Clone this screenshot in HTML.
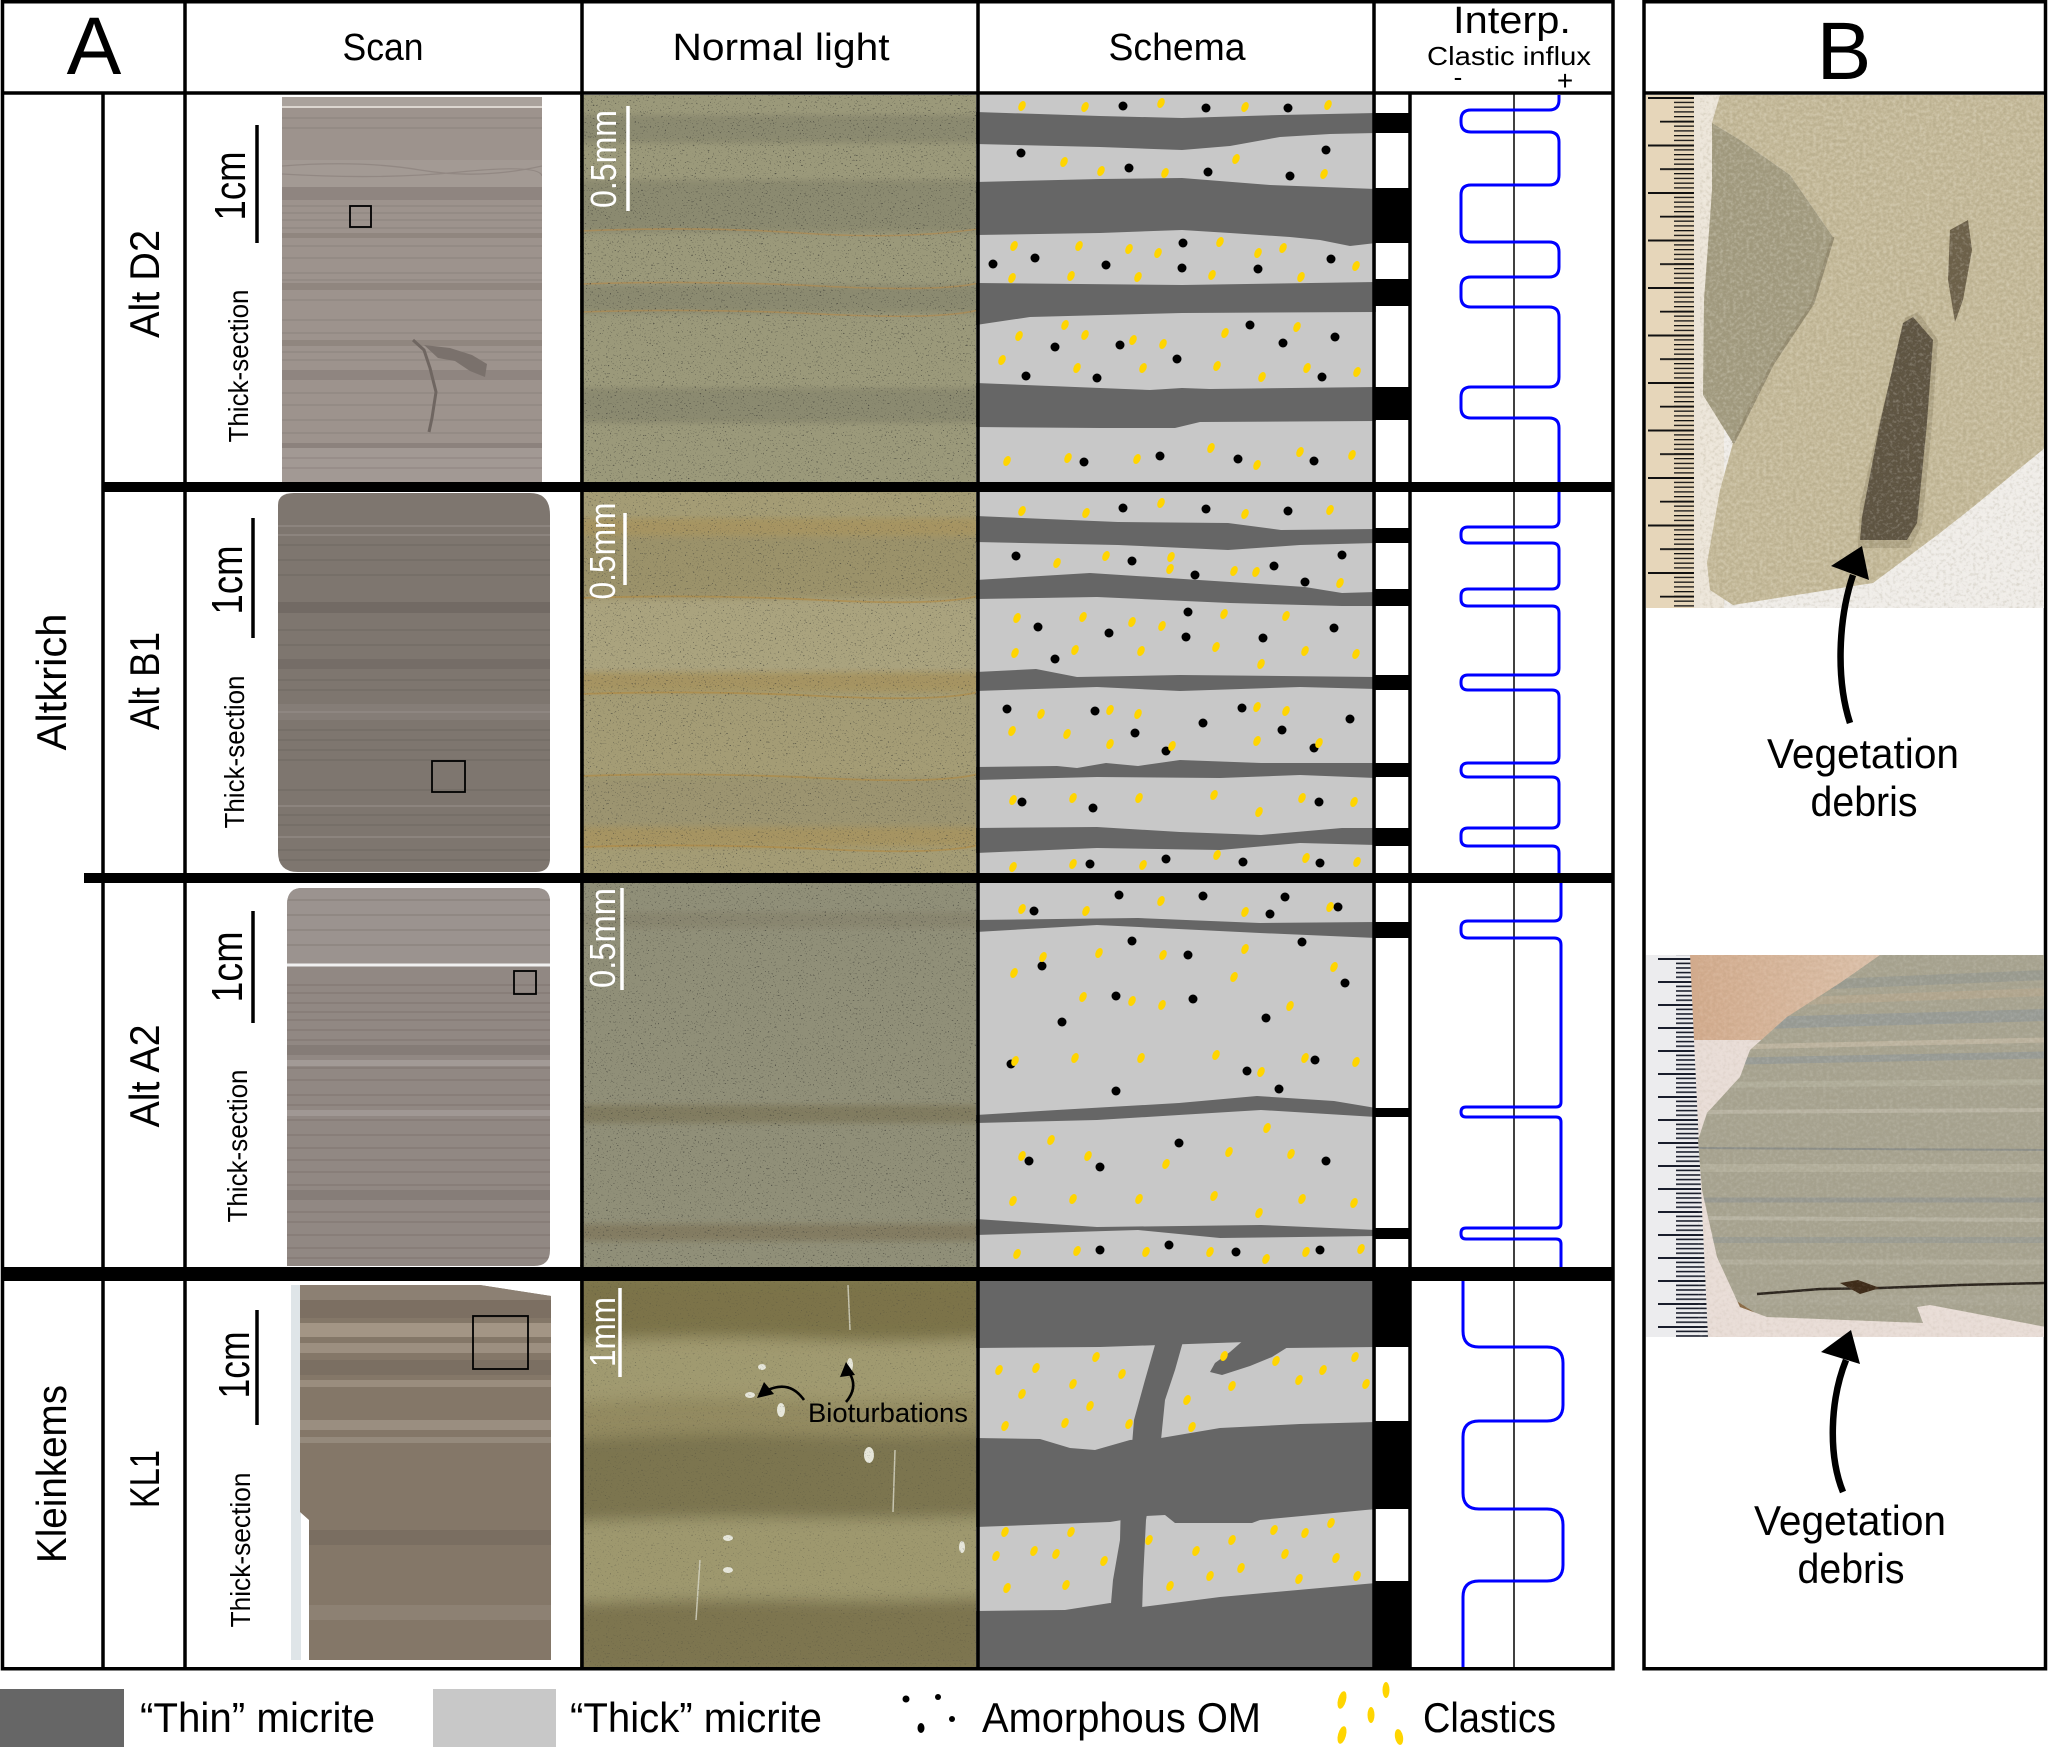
<!DOCTYPE html>
<html><head><meta charset="utf-8"><title>Figure</title>
<style>
html,body{margin:0;padding:0;background:#fff;width:2048px;height:1747px;overflow:hidden}
svg{display:block}
text{font-family:"Liberation Sans","DejaVu Sans",Arial,sans-serif;fill:#000}
</style></head><body>
<svg xmlns="http://www.w3.org/2000/svg" xmlns:xlink="http://www.w3.org/1999/xlink" width="2048" height="1747" viewBox="0 0 2048 1747">
<defs>
<filter id="spk" x="0" y="0" width="1" height="1">
<feTurbulence type="fractalNoise" baseFrequency="0.6" numOctaves="2" seed="7"/>
<feColorMatrix type="matrix" values="0 0 0 0 0.05  0 0 0 0 0.05  0 0 0 0 0.04  -9 0 0 0 3.1"/>
</filter>
<filter id="grain" x="0" y="0" width="1" height="1">
<feTurbulence type="fractalNoise" baseFrequency="0.3" numOctaves="3" seed="11" result="t"/>
<feColorMatrix in="t" type="matrix" values="0 0 0 0 0.25  0 0 0 0 0.22  0 0 0 0 0.12  -2.2 0 0 0 1.1" result="d"/>
<feColorMatrix in="t" type="matrix" values="0 0 0 0 1  0 0 0 0 0.98  0 0 0 0 0.9  2.4 0 0 0 -1.1" result="l"/>
<feMerge><feMergeNode in="d"/><feMergeNode in="l"/></feMerge>
</filter>
<filter id="bl3" x="-0.05" y="-0.2" width="1.1" height="1.4"><feGaussianBlur stdDeviation="3"/></filter>
<filter id="bl8" x="-0.1" y="-0.3" width="1.2" height="1.6"><feGaussianBlur stdDeviation="7"/></filter>
<circle id="bd" r="4.5" fill="#000"/>
<ellipse id="yd" rx="3.4" ry="5.2" fill="#ffd500" transform="rotate(25)"/>
<pattern id="tkA" patternUnits="userSpaceOnUse" x="1646" y="97" width="48" height="4.75"><rect x="28" y="0" width="20" height="1.3" fill="#111"/></pattern>
<pattern id="tkB" patternUnits="userSpaceOnUse" x="1646" y="97" width="48" height="23.75"><rect x="14" y="0" width="34" height="1.8" fill="#111"/></pattern>
<pattern id="tkC" patternUnits="userSpaceOnUse" x="1646" y="97" width="48" height="47.5"><rect x="2" y="0" width="46" height="2" fill="#111"/></pattern>
<pattern id="tkD" patternUnits="userSpaceOnUse" x="1646" y="958" width="62" height="4.6"><rect x="30" y="0" width="32" height="1.6" fill="#1a1e2c"/></pattern>
<pattern id="tkE" patternUnits="userSpaceOnUse" x="1646" y="958" width="62" height="23"><rect x="12" y="0" width="50" height="2" fill="#1a1e2c"/></pattern>
<linearGradient id="bg2" x1="0" y1="0" x2="1" y2="0"><stop offset="0" stop-color="#cfa585"/><stop offset="0.5" stop-color="#d9bca4"/><stop offset="1" stop-color="#e3d6ca"/></linearGradient>
<clipPath id="cNL1"><rect x="580" y="95" width="398" height="387"/></clipPath>
<clipPath id="cNL2"><rect x="580" y="492" width="398" height="381"/></clipPath>
<clipPath id="cNL3"><rect x="580" y="883" width="398" height="384"/></clipPath>
<clipPath id="cNL4"><rect x="580" y="1281" width="398" height="387"/></clipPath>
<clipPath id="cS1"><rect x="976" y="95" width="400" height="387"/></clipPath>
<clipPath id="cS2"><rect x="976" y="492" width="400" height="381"/></clipPath>
<clipPath id="cS3"><rect x="976" y="883" width="400" height="384"/></clipPath>
<clipPath id="cS4"><rect x="976" y="1281" width="400" height="387"/></clipPath>
<clipPath id="cSc1"><rect x="282" y="97" width="260" height="385"/></clipPath>
<clipPath id="cSc2"><path d="M294 493H530Q550 493 550 515V858Q550 872 536 872H298Q278 872 278 852V505Q278 493 294 493Z"/></clipPath>
<clipPath id="cSc3"><path d="M302 888H536Q550 888 550 902V1250Q550 1266 534 1266H287V905Q287 888 302 888Z"/></clipPath>
<clipPath id="cSc4"><path d="M300 1285L480 1285L551 1296L551 1660L309 1660L309 1520L300 1512Z"/></clipPath>
<clipPath id="cP1"><rect x="1646" y="95" width="398" height="513"/></clipPath>
<clipPath id="cP2"><rect x="1646" y="955" width="398" height="382"/></clipPath>
<clipPath id="cRock2"><path d="M1880 955L1840 983L1787 1017L1750 1050L1740 1077L1707 1113L1698 1140L1702 1190L1717 1257L1740 1307L1767 1317L1923 1323L1917 1307L1930 1305L2046 1327L2046 955Z"/></clipPath>
</defs>
<rect width="2048" height="1747" fill="#fff"/>

<!-- ================= SCANS ================= -->
<g clip-path="url(#cSc1)">
<rect x="282" y="97" width="260" height="385" fill="#9d938d"/>
<rect x="282" y="97" width="260" height="10" fill="#aaa29c"/>
<rect x="282" y="160" width="260" height="27" fill="#a39a94"/>
<rect x="282" y="187" width="260" height="13" fill="#8f8580"/>
<rect x="282" y="233" width="260" height="5" fill="#90867f"/>
<rect x="282" y="283" width="260" height="7" fill="#90867f"/>
<rect x="282" y="340" width="260" height="6" fill="#90867f"/>
<rect x="282" y="370" width="260" height="10" fill="#8f8580"/>
<rect x="282" y="443" width="260" height="5" fill="#8c827d"/>
<rect x="282" y="448" width="260" height="34" fill="#a29994"/>
<path d="M282 118H542M282 128H542M282 166Q360 160 420 170T542 166M282 174Q380 180 460 172T542 176M282 206H542M282 213H542M282 220H542M282 228H542M282 246H542M282 258H542M282 273H542M282 280H542M282 300H542M282 320H542M282 333H542M282 352H542M282 360H542M282 393H542M282 405H542M282 420H542M282 433H542M282 458H542M282 468H542" stroke="#877d78" stroke-width="1.3" fill="none" opacity=".6"/>
<line x1="282" y1="107" x2="542" y2="107" stroke="#dcd6d0" stroke-width="2"/>
<path d="M413 340L424 350L430 368L436 392L432 418L429 432" stroke="#6f6661" stroke-width="3" fill="none"/>
<path d="M424 345L450 348L472 355L487 364L485 377L470 371L455 361L438 358Z" fill="#7a716c"/>
<rect x="350" y="206" width="21" height="21" fill="none" stroke="#000" stroke-width="1.8"/>
</g>
<g clip-path="url(#cSc2)">
<rect x="276" y="490" width="276" height="384" fill="#7e766f"/>
<rect x="276" y="602" width="276" height="11" fill="#726a64"/>
<rect x="276" y="659" width="276" height="10" fill="#756d67"/>
<rect x="276" y="704" width="276" height="16" fill="#857d77"/>
<path d="M276 545H552M276 560H552M276 575H552M276 630H552M276 645H552M276 680H552M276 690H552M276 730H552M276 740H552M276 750H552M276 760H552M276 790H552M276 815H552M276 825H552M276 850H552M276 860H552" stroke="#6e6660" stroke-width="1.3" fill="none" opacity=".7"/>
<path d="M276 526H552M276 535H552M276 712H552M276 806H552M276 837H552" stroke="#958d87" stroke-width="1.3" fill="none"/>
<rect x="432" y="761" width="33" height="31" fill="none" stroke="#000" stroke-width="1.8"/>
</g>
<g clip-path="url(#cSc3)">
<rect x="285" y="886" width="267" height="382" fill="#918883"/>
<rect x="285" y="886" width="267" height="79" fill="#9b938f"/>
<path d="M285 900H552M285 915H552M285 930H552M285 945H552" stroke="#8a817c" stroke-width="1.3" fill="none"/>
<rect x="285" y="1045" width="267" height="10" fill="#857c77"/>
<rect x="285" y="1190" width="267" height="10" fill="#867d78"/>
<rect x="285" y="1060" width="267" height="6" fill="#a29a96"/>
<rect x="285" y="1110" width="267" height="6" fill="#a09894"/>
<path d="M285 985H552M285 993H552M285 1003H552M285 1012H552M285 1020H552M285 1030H552M285 1040H552M285 1068H552M285 1080H552M285 1095H552M285 1105H552M285 1120H552M285 1135H552M285 1148H552M285 1160H552M285 1172H552M285 1185H552M285 1212H552M285 1222H552M285 1235H552M285 1248H552M285 1258H552" stroke="#7f7671" stroke-width="1.3" fill="none" opacity=".8"/>
<line x1="285" y1="965" x2="552" y2="965" stroke="#f0f0f0" stroke-width="3"/>
<rect x="514" y="971" width="22" height="23" fill="none" stroke="#000" stroke-width="1.8"/>
</g>
<rect x="291" y="1285" width="10" height="375" fill="#dfe5e8"/>
<g clip-path="url(#cSc4)">
<rect x="298" y="1283" width="255" height="380" fill="#847768"/>
<rect x="298" y="1285" width="255" height="15" fill="#8c8073"/>
<rect x="298" y="1300" width="255" height="18" fill="#7c6f62"/>
<rect x="298" y="1323" width="255" height="14" fill="#a39585"/>
<rect x="298" y="1343" width="255" height="10" fill="#9c8f80"/>
<rect x="298" y="1360" width="255" height="15" fill="#7b6f62"/>
<rect x="298" y="1380" width="255" height="7" fill="#9a8d7e"/>
<rect x="298" y="1420" width="255" height="10" fill="#9a8e80"/>
<rect x="298" y="1437" width="255" height="6" fill="#958a7c"/>
<rect x="298" y="1530" width="255" height="15" fill="#7a6e61"/>
<rect x="298" y="1605" width="255" height="15" fill="#8d8173"/>
<rect x="473" y="1316" width="55" height="53" fill="none" stroke="#000" stroke-width="1.8"/>
</g>

<!-- ================= NORMAL LIGHT ================= -->
<g clip-path="url(#cNL1)">
<rect x="580" y="95" width="398" height="387" fill="#9b997a"/>
<g filter="url(#bl3)" fill="#8b8a6f">
<rect x="570" y="115" width="420" height="28"/>
<rect x="570" y="180" width="420" height="52"/>
<rect x="570" y="285" width="420" height="28"/>
<rect x="570" y="388" width="420" height="35"/>
</g>
<path d="M580 231Q700 226 800 233T978 229M580 284Q700 280 820 286T978 283M580 312Q700 308 820 314T978 310" stroke="#b08a50" stroke-width="1.6" fill="none" opacity=".7"/>
<rect x="580" y="95" width="398" height="387" fill="#000" filter="url(#spk)" opacity=".75"/>
</g>
<g clip-path="url(#cNL2)">
<rect x="580" y="492" width="398" height="381" fill="#a49c75"/>
<g filter="url(#bl3)">
<rect x="570" y="518" width="420" height="18" fill="#a69462"/>
<rect x="570" y="536" width="420" height="62" fill="#9b926b"/>
<rect x="570" y="600" width="420" height="72" fill="#aaa37e"/>
<rect x="570" y="672" width="420" height="20" fill="#a69462"/>
<rect x="570" y="776" width="420" height="51" fill="#9c9470"/>
<rect x="570" y="827" width="420" height="20" fill="#a69462"/>
</g>
<path d="M580 598Q700 594 820 600T978 596M580 776Q700 772 820 778T978 774M580 694Q700 690 820 696T978 692M580 847Q700 843 820 849T978 845" stroke="#b3893f" stroke-width="1.8" fill="none" opacity=".6"/>
<rect x="580" y="492" width="398" height="381" fill="#000" filter="url(#spk)" opacity=".65"/>
</g>
<g clip-path="url(#cNL3)">
<rect x="580" y="883" width="398" height="384" fill="#908f78"/>
<g filter="url(#bl3)">
<rect x="570" y="912" width="420" height="16" fill="#898670"/>
<rect x="570" y="1105" width="420" height="18" fill="#817b61"/>
<rect x="570" y="1224" width="420" height="17" fill="#837c62"/>
</g>
<rect x="580" y="883" width="398" height="384" fill="#000" filter="url(#spk)" opacity=".7"/>
</g>
<g clip-path="url(#cNL4)">
<rect x="580" y="1281" width="398" height="387" fill="#8b8359"/>
<g filter="url(#bl8)">
<path fill="#7c7349" d="M570 1275H990V1336Q900 1344 800 1338T570 1342Z"/>
<path fill="#a09a70" d="M570 1342Q700 1336 800 1340T990 1338V1398Q880 1404 780 1400T570 1404Z"/>
<path fill="#938a61" d="M570 1404Q700 1398 800 1402T990 1398V1432Q880 1438 780 1434T570 1440Z"/>
<path fill="#7b7450" d="M570 1440Q700 1432 800 1436T990 1432V1516Q880 1520 780 1518T570 1522Z"/>
<path fill="#9e986e" d="M570 1522Q700 1516 800 1518T990 1516V1598Q880 1602 780 1600T570 1604Z"/>
<path fill="#7d7550" d="M570 1604Q700 1598 800 1600T990 1598V1675H570Z"/>
</g>
<path d="M848 1285L850 1330M895 1450L893 1512M700 1560L696 1620" stroke="#d8d8c8" stroke-width="1.5" fill="none" opacity=".8"/>
<g fill="#e6e6da">
<ellipse cx="781" cy="1410" rx="4" ry="7"/><ellipse cx="869" cy="1455" rx="5" ry="8"/><ellipse cx="728" cy="1538" rx="5" ry="3"/><ellipse cx="728" cy="1570" rx="5" ry="3"/><ellipse cx="962" cy="1547" rx="3" ry="6"/><ellipse cx="762" cy="1367" rx="4" ry="3"/><ellipse cx="750" cy="1395" rx="5" ry="3"/><ellipse cx="850" cy="1365" rx="3" ry="7"/>
</g>
<rect x="580" y="1281" width="398" height="387" fill="#000" filter="url(#spk)" opacity=".35"/>
</g>

<!-- ================= SCHEMA ================= -->
<g clip-path="url(#cS1)">
<rect x="976" y="93" width="400" height="391" fill="#c8c8c8"/>
<path fill="#666" d="M976 112L1100 116L1182 118L1280 115L1376 113L1376 133L1330 134L1280 137L1230 146L1182 150L1100 147L976 144Z
M976 182L1100 179L1182 178L1270 185L1376 189L1376 243L1350 246L1320 240L1290 237L1230 233L1182 230L1100 233L976 235Z
M976 283L1182 285L1376 282L1376 312L1182 313L1030 317L976 325Z
M976 383L1100 388L1150 390L1182 388L1210 389L1376 387L1376 421L1200 422L1175 428L1100 428L976 427Z"/>
<g>
<use href="#bd" x="1123" y="106"/><use href="#bd" x="1206" y="108"/><use href="#bd" x="1288" y="108"/><use href="#bd" x="1021" y="153"/><use href="#bd" x="1129" y="168"/><use href="#bd" x="1208" y="172"/><use href="#bd" x="1290" y="176"/><use href="#bd" x="1326" y="150"/><use href="#bd" x="993" y="264"/><use href="#bd" x="1035" y="258"/><use href="#bd" x="1106" y="265"/><use href="#bd" x="1182" y="268"/><use href="#bd" x="1183" y="243"/><use href="#bd" x="1258" y="269"/><use href="#bd" x="1331" y="259"/><use href="#bd" x="1055" y="347"/><use href="#bd" x="1120" y="345"/><use href="#bd" x="1177" y="359"/><use href="#bd" x="1250" y="325"/><use href="#bd" x="1283" y="343"/><use href="#bd" x="1335" y="337"/><use href="#bd" x="1026" y="376"/><use href="#bd" x="1097" y="378"/><use href="#bd" x="1322" y="377"/><use href="#bd" x="1084" y="462"/><use href="#bd" x="1160" y="456"/><use href="#bd" x="1238" y="459"/><use href="#bd" x="1314" y="461"/>
<use href="#yd" x="1022" y="106"/><use href="#yd" x="1085" y="107"/><use href="#yd" x="1161" y="103"/><use href="#yd" x="1245" y="107"/><use href="#yd" x="1328" y="105"/><use href="#yd" x="1064" y="162"/><use href="#yd" x="1101" y="171"/><use href="#yd" x="1165" y="173"/><use href="#yd" x="1236" y="159"/><use href="#yd" x="1324" y="174"/><use href="#yd" x="1014" y="246"/><use href="#yd" x="1079" y="246"/><use href="#yd" x="1129" y="249"/><use href="#yd" x="1158" y="253"/><use href="#yd" x="1220" y="242"/><use href="#yd" x="1258" y="253"/><use href="#yd" x="1283" y="248"/><use href="#yd" x="1356" y="266"/><use href="#yd" x="1012" y="278"/><use href="#yd" x="1071" y="276"/><use href="#yd" x="1138" y="277"/><use href="#yd" x="1212" y="275"/><use href="#yd" x="1301" y="277"/><use href="#yd" x="1019" y="336"/><use href="#yd" x="1065" y="325"/><use href="#yd" x="1085" y="335"/><use href="#yd" x="1133" y="340"/><use href="#yd" x="1163" y="344"/><use href="#yd" x="1225" y="333"/><use href="#yd" x="1297" y="327"/><use href="#yd" x="1002" y="360"/><use href="#yd" x="1077" y="368"/><use href="#yd" x="1143" y="368"/><use href="#yd" x="1217" y="366"/><use href="#yd" x="1262" y="377"/><use href="#yd" x="1307" y="368"/><use href="#yd" x="1357" y="372"/><use href="#yd" x="1007" y="461"/><use href="#yd" x="1068" y="458"/><use href="#yd" x="1137" y="459"/><use href="#yd" x="1211" y="448"/><use href="#yd" x="1257" y="465"/><use href="#yd" x="1300" y="452"/><use href="#yd" x="1352" y="455"/>
</g>
</g>
<g clip-path="url(#cS2)">
<rect x="976" y="490" width="400" height="385" fill="#c8c8c8"/>
<path fill="#666" d="M976 516L1118 522L1228 523L1281 530L1376 529L1376 543L1300 545L1228 550L1118 545L976 542Z
M976 580L1090 573L1230 582L1305 587L1342 593L1376 592L1376 606L1342 606L1230 603L1097 597L976 599Z
M976 672L1036 669L1077 677L1180 675L1376 677L1376 689L1300 687L1180 691L1097 687L976 691Z
M976 767L1057 766L1077 768L1106 763L1138 766L1180 760L1261 763L1376 763L1376 778L1300 775L1220 778L1097 777L976 780Z
M976 828L1097 827L1180 832L1261 835L1342 828L1376 828L1376 845L1300 843L1220 850L1097 848L976 853Z"/>
<g>
<use href="#bd" x="1123" y="508"/><use href="#bd" x="1206" y="509"/><use href="#bd" x="1288" y="511"/><use href="#bd" x="1016" y="556"/><use href="#bd" x="1132" y="561"/><use href="#bd" x="1195" y="575"/><use href="#bd" x="1274" y="566"/><use href="#bd" x="1305" y="582"/><use href="#bd" x="1342" y="555"/><use href="#bd" x="1038" y="627"/><use href="#bd" x="1109" y="633"/><use href="#bd" x="1188" y="612"/><use href="#bd" x="1186" y="637"/><use href="#bd" x="1263" y="638"/><use href="#bd" x="1334" y="628"/><use href="#bd" x="1055" y="659"/><use href="#bd" x="1007" y="709"/><use href="#bd" x="1095" y="711"/><use href="#bd" x="1203" y="723"/><use href="#bd" x="1242" y="708"/><use href="#bd" x="1350" y="719"/><use href="#bd" x="1135" y="733"/><use href="#bd" x="1282" y="730"/><use href="#bd" x="1166" y="751"/><use href="#bd" x="1314" y="748"/><use href="#bd" x="1022" y="802"/><use href="#bd" x="1093" y="808"/><use href="#bd" x="1319" y="802"/><use href="#bd" x="1090" y="864"/><use href="#bd" x="1166" y="859"/><use href="#bd" x="1243" y="862"/><use href="#bd" x="1320" y="863"/>
<use href="#yd" x="1022" y="511"/><use href="#yd" x="1086" y="513"/><use href="#yd" x="1161" y="503"/><use href="#yd" x="1245" y="514"/><use href="#yd" x="1330" y="510"/><use href="#yd" x="1057" y="563"/><use href="#yd" x="1106" y="556"/><use href="#yd" x="1171" y="557"/><use href="#yd" x="1170" y="569"/><use href="#yd" x="1234" y="571"/><use href="#yd" x="1256" y="572"/><use href="#yd" x="1340" y="583"/><use href="#yd" x="1017" y="618"/><use href="#yd" x="1083" y="617"/><use href="#yd" x="1132" y="622"/><use href="#yd" x="1162" y="626"/><use href="#yd" x="1224" y="614"/><use href="#yd" x="1286" y="616"/><use href="#yd" x="1015" y="653"/><use href="#yd" x="1075" y="650"/><use href="#yd" x="1141" y="651"/><use href="#yd" x="1216" y="647"/><use href="#yd" x="1305" y="651"/><use href="#yd" x="1356" y="654"/><use href="#yd" x="1261" y="664"/><use href="#yd" x="1041" y="714"/><use href="#yd" x="1110" y="710"/><use href="#yd" x="1138" y="714"/><use href="#yd" x="1257" y="707"/><use href="#yd" x="1286" y="711"/><use href="#yd" x="1012" y="731"/><use href="#yd" x="1067" y="734"/><use href="#yd" x="1110" y="744"/><use href="#yd" x="1172" y="746"/><use href="#yd" x="1257" y="741"/><use href="#yd" x="1319" y="743"/><use href="#yd" x="1013" y="800"/><use href="#yd" x="1073" y="798"/><use href="#yd" x="1139" y="798"/><use href="#yd" x="1214" y="795"/><use href="#yd" x="1302" y="798"/><use href="#yd" x="1354" y="802"/><use href="#yd" x="1259" y="812"/><use href="#yd" x="1013" y="867"/><use href="#yd" x="1073" y="864"/><use href="#yd" x="1143" y="865"/><use href="#yd" x="1217" y="855"/><use href="#yd" x="1306" y="858"/><use href="#yd" x="1357" y="862"/>
</g>
</g>
<g clip-path="url(#cS3)">
<rect x="976" y="881" width="400" height="388" fill="#c8c8c8"/>
<path fill="#666" d="M976 920L1138 918L1260 923L1376 922L1376 938L1260 933L1097 925L976 932Z
M976 1115L1057 1110L1179 1103L1257 1096L1334 1101L1376 1108L1376 1117L1261 1110L1179 1115L1097 1120L976 1123Z
M976 1219L1097 1227L1261 1225L1376 1230L1376 1236L1220 1238L1138 1230L976 1235Z"/>
<g>
<use href="#bd" x="1119" y="895"/><use href="#bd" x="1203" y="896"/><use href="#bd" x="1285" y="897"/><use href="#bd" x="1034" y="911"/><use href="#bd" x="1338" y="907"/><use href="#bd" x="1270" y="914"/><use href="#bd" x="1132" y="941"/><use href="#bd" x="1302" y="942"/><use href="#bd" x="1042" y="966"/><use href="#bd" x="1188" y="955"/><use href="#bd" x="1345" y="983"/><use href="#bd" x="1116" y="996"/><use href="#bd" x="1193" y="999"/><use href="#bd" x="1062" y="1022"/><use href="#bd" x="1266" y="1018"/><use href="#bd" x="1011" y="1064"/><use href="#bd" x="1315" y="1060"/><use href="#bd" x="1247" y="1071"/><use href="#bd" x="1116" y="1091"/><use href="#bd" x="1279" y="1089"/><use href="#bd" x="1179" y="1143"/><use href="#bd" x="1029" y="1161"/><use href="#bd" x="1100" y="1167"/><use href="#bd" x="1326" y="1161"/><use href="#bd" x="1169" y="1245"/><use href="#bd" x="1100" y="1250"/><use href="#bd" x="1236" y="1252"/><use href="#bd" x="1320" y="1250"/>
<use href="#yd" x="1022" y="909"/><use href="#yd" x="1086" y="911"/><use href="#yd" x="1161" y="901"/><use href="#yd" x="1245" y="912"/><use href="#yd" x="1330" y="907"/><use href="#yd" x="1043" y="957"/><use href="#yd" x="1099" y="953"/><use href="#yd" x="1163" y="955"/><use href="#yd" x="1245" y="949"/><use href="#yd" x="1014" y="973"/><use href="#yd" x="1234" y="977"/><use href="#yd" x="1334" y="967"/><use href="#yd" x="1083" y="997"/><use href="#yd" x="1132" y="1001"/><use href="#yd" x="1162" y="1005"/><use href="#yd" x="1290" y="1006"/><use href="#yd" x="1015" y="1061"/><use href="#yd" x="1075" y="1058"/><use href="#yd" x="1141" y="1058"/><use href="#yd" x="1216" y="1055"/><use href="#yd" x="1305" y="1058"/><use href="#yd" x="1356" y="1062"/><use href="#yd" x="1261" y="1072"/><use href="#yd" x="1267" y="1128"/><use href="#yd" x="1051" y="1140"/><use href="#yd" x="1022" y="1156"/><use href="#yd" x="1088" y="1156"/><use href="#yd" x="1166" y="1164"/><use href="#yd" x="1229" y="1152"/><use href="#yd" x="1291" y="1154"/><use href="#yd" x="1013" y="1201"/><use href="#yd" x="1073" y="1199"/><use href="#yd" x="1139" y="1199"/><use href="#yd" x="1214" y="1196"/><use href="#yd" x="1302" y="1199"/><use href="#yd" x="1354" y="1203"/><use href="#yd" x="1259" y="1213"/><use href="#yd" x="1017" y="1254"/><use href="#yd" x="1077" y="1251"/><use href="#yd" x="1146" y="1252"/><use href="#yd" x="1210" y="1252"/><use href="#yd" x="1266" y="1259"/><use href="#yd" x="1306" y="1252"/><use href="#yd" x="1361" y="1249"/>
</g>
</g>
<g clip-path="url(#cS4)">
<rect x="976" y="1279" width="400" height="390" fill="#666"/>
<path fill="#c8c8c8" d="M976 1348L1100 1347L1160 1345L1246 1342L1285 1348L1376 1347L1376 1422L1300 1424L1220 1428L1161 1438L1130 1440L1095 1450L1070 1448L1040 1439L976 1438Z
M976 1527L1110 1522L1146 1516L1165 1515L1175 1523L1252 1523L1260 1520L1376 1509L1376 1583L1220 1597L1142 1607L1110 1603L1065 1610L976 1611Z"/>
<path fill="#666" d="M1157 1338L1145 1380L1134 1420L1132 1445L1121 1500L1120 1540L1113 1580L1110 1615L1142 1615L1143 1580L1146 1520L1150 1495L1161 1440L1165 1400L1175 1370L1184 1338Z
M1246 1338L1230 1352L1215 1363L1210 1372L1222 1375L1250 1366L1272 1357L1288 1347L1288 1338Z"/>
<g>
<use href="#yd" x="999" y="1370"/><use href="#yd" x="1036" y="1368"/><use href="#yd" x="1096" y="1357"/><use href="#yd" x="1122" y="1374"/><use href="#yd" x="1073" y="1384"/><use href="#yd" x="1022" y="1394"/><use href="#yd" x="1090" y="1406"/><use href="#yd" x="1005" y="1426"/><use href="#yd" x="1065" y="1423"/><use href="#yd" x="1129" y="1424"/><use href="#yd" x="1224" y="1356"/><use href="#yd" x="1276" y="1361"/><use href="#yd" x="1355" y="1357"/><use href="#yd" x="1323" y="1370"/><use href="#yd" x="1232" y="1386"/><use href="#yd" x="1299" y="1380"/><use href="#yd" x="1366" y="1384"/><use href="#yd" x="1187" y="1400"/><use href="#yd" x="1192" y="1427"/>
<use href="#yd" x="1005" y="1532"/><use href="#yd" x="1071" y="1532"/><use href="#yd" x="1149" y="1540"/><use href="#yd" x="1232" y="1540"/><use href="#yd" x="1274" y="1530"/><use href="#yd" x="1305" y="1533"/><use href="#yd" x="1331" y="1523"/><use href="#yd" x="996" y="1556"/><use href="#yd" x="1034" y="1551"/><use href="#yd" x="1056" y="1554"/><use href="#yd" x="1104" y="1561"/><use href="#yd" x="1196" y="1551"/><use href="#yd" x="1285" y="1554"/><use href="#yd" x="1336" y="1558"/><use href="#yd" x="1241" y="1568"/><use href="#yd" x="1210" y="1576"/><use href="#yd" x="1299" y="1579"/><use href="#yd" x="1357" y="1576"/><use href="#yd" x="1007" y="1588"/><use href="#yd" x="1066" y="1585"/><use href="#yd" x="1170" y="1586"/>
</g>
</g>

<!-- ================= BARS ================= -->
<g fill="#000">
<rect x="1374" y="113" width="36" height="20"/><rect x="1374" y="188" width="36" height="55"/><rect x="1374" y="279" width="36" height="27"/><rect x="1374" y="387" width="36" height="33"/>
<rect x="1374" y="528" width="36" height="15"/><rect x="1374" y="589" width="36" height="17"/><rect x="1374" y="675" width="36" height="15"/><rect x="1374" y="763" width="36" height="14"/><rect x="1374" y="828" width="36" height="18"/>
<rect x="1374" y="922" width="36" height="16"/><rect x="1374" y="1108" width="36" height="9"/><rect x="1374" y="1228" width="36" height="11"/>
<rect x="1374" y="1281" width="36" height="66"/><rect x="1374" y="1421" width="36" height="88"/><rect x="1374" y="1581" width="36" height="88"/>
</g>

<!-- ================= INTERP ================= -->
<line x1="1514" y1="93" x2="1514" y2="1669" stroke="#000" stroke-width="1.5"/>
<g fill="none" stroke="#0000ff" stroke-width="3">
<path d="M1559 95V100Q1559 110 1549 110H1471Q1461 110 1461 120V122Q1461 132 1471 132H1549Q1559 132 1559 142V175Q1559 185 1549 185H1471Q1461 185 1461 195V232Q1461 242 1471 242H1549Q1559 242 1559 252V267Q1559 277 1549 277H1471Q1461 277 1461 287V297Q1461 307 1471 307H1549Q1559 307 1559 317V377Q1559 387 1549 387H1471Q1461 387 1461 397V408Q1461 418 1471 418H1549Q1559 418 1559 428V484"/>
<path d="M1559 490V520Q1559 527 1552 527H1468Q1461 527 1461 534V536Q1461 543 1468 543H1552Q1559 543 1559 550V582Q1559 589 1552 589H1468Q1461 589 1461 596V599Q1461 606 1468 606H1552Q1559 606 1559 613V668Q1559 675 1552 675H1468Q1461 675 1461 682V683Q1461 690 1468 690H1552Q1559 690 1559 697V756Q1559 763 1552 763H1468Q1461 763 1461 770Q1461 777 1468 777H1552Q1559 777 1559 784V821Q1559 828 1552 828H1468Q1461 828 1461 835V839Q1461 846 1468 846H1552Q1559 846 1559 853V875"/>
<path d="M1561 881V914Q1561 921 1554 921H1468Q1461 921 1461 928V931Q1461 938 1468 938H1554Q1561 938 1561 945V1102Q1561 1107 1556 1107H1466Q1461 1107 1461 1112Q1461 1117 1466 1117H1556Q1561 1117 1561 1122V1223Q1561 1228 1556 1228H1466Q1461 1228 1461 1233V1234Q1461 1239 1466 1239H1556Q1561 1239 1561 1244V1269"/>
<path d="M1463 1279V1331Q1463 1347 1479 1347H1547Q1563 1347 1563 1363V1405Q1563 1421 1547 1421H1479Q1463 1421 1463 1437V1493Q1463 1509 1479 1509H1547Q1563 1509 1563 1525V1565Q1563 1581 1547 1581H1479Q1463 1581 1463 1597V1669"/>
</g>

<!-- ================= GRID LINES ================= -->
<g stroke="#000" stroke-width="3.5" fill="none">
<rect x="2.5" y="1.75" width="1610.5" height="1667"/>
<line x1="2" y1="93" x2="1613" y2="93"/>
<line x1="185" y1="0" x2="185" y2="1669"/>
<line x1="582" y1="0" x2="582" y2="1669"/>
<line x1="978" y1="0" x2="978" y2="1669"/>
<line x1="1374" y1="0" x2="1374" y2="1669"/>
<line x1="1410" y1="93" x2="1410" y2="1669"/>
<line x1="103" y1="93" x2="103" y2="1669"/>
<rect x="1644" y="1.75" width="401.5" height="1667"/>
<line x1="1644" y1="93" x2="2046" y2="93"/>
</g>
<rect x="103" y="482" width="1510" height="10" fill="#000"/>
<rect x="84" y="873" width="1529" height="10" fill="#000"/>
<rect x="2" y="1267" width="1611" height="14" fill="#000"/>

<!-- ================= HEADER TEXT ================= -->
<text x="94" y="74" font-size="82" text-anchor="middle">A</text>
<text x="383" y="60" font-size="38" text-anchor="middle" textLength="81" lengthAdjust="spacingAndGlyphs">Scan</text>
<text x="781" y="60" font-size="38" text-anchor="middle" textLength="217" lengthAdjust="spacingAndGlyphs">Normal light</text>
<text x="1177" y="60" font-size="38" text-anchor="middle" textLength="137" lengthAdjust="spacingAndGlyphs">Schema</text>
<text x="1512" y="33" font-size="38" text-anchor="middle" textLength="118" lengthAdjust="spacingAndGlyphs">Interp.</text>
<text x="1509" y="65" font-size="26" text-anchor="middle" textLength="164" lengthAdjust="spacingAndGlyphs">Clastic influx</text>
<text x="1458" y="86" font-size="26" text-anchor="middle">-</text>
<text x="1565" y="90" font-size="28" text-anchor="middle">+</text>
<text x="1844" y="79" font-size="82" text-anchor="middle">B</text>

<!-- ================= ROW LABELS ================= -->
<text x="66" y="682" transform="rotate(-90 66 682)" font-size="42" text-anchor="middle" textLength="137" lengthAdjust="spacingAndGlyphs">Altkrich</text>
<text x="66" y="1474" transform="rotate(-90 66 1474)" font-size="42" text-anchor="middle" textLength="178" lengthAdjust="spacingAndGlyphs">Kleinkems</text>
<text x="159" y="284" transform="rotate(-90 159 284)" font-size="42" text-anchor="middle" textLength="108" lengthAdjust="spacingAndGlyphs">Alt D2</text>
<text x="159" y="681" transform="rotate(-90 159 681)" font-size="42" text-anchor="middle" textLength="98" lengthAdjust="spacingAndGlyphs">Alt B1</text>
<text x="159" y="1076" transform="rotate(-90 159 1076)" font-size="42" text-anchor="middle" textLength="103" lengthAdjust="spacingAndGlyphs">Alt A2</text>
<text x="159" y="1479" transform="rotate(-90 159 1479)" font-size="42" text-anchor="middle" textLength="58" lengthAdjust="spacingAndGlyphs">KL1</text>

<text x="245" y="186" transform="rotate(-90 245 186)" font-size="44" text-anchor="middle" textLength="69" lengthAdjust="spacingAndGlyphs">1cm</text>
<text x="242" y="580" transform="rotate(-90 242 580)" font-size="44" text-anchor="middle" textLength="69" lengthAdjust="spacingAndGlyphs">1cm</text>
<text x="242" y="967" transform="rotate(-90 242 967)" font-size="44" text-anchor="middle" textLength="71" lengthAdjust="spacingAndGlyphs">1cm</text>
<text x="249" y="1365" transform="rotate(-90 249 1365)" font-size="44" text-anchor="middle" textLength="67" lengthAdjust="spacingAndGlyphs">1cm</text>
<g stroke="#000" stroke-width="3.5">
<line x1="257" y1="125" x2="257" y2="243"/>
<line x1="253" y1="518" x2="253" y2="638"/>
<line x1="253" y1="911" x2="253" y2="1023"/>
<line x1="257" y1="1310" x2="257" y2="1425"/>
</g>
<text x="248" y="366" transform="rotate(-90 248 366)" font-size="28" text-anchor="middle" textLength="153" lengthAdjust="spacingAndGlyphs">Thick-section</text>
<text x="244" y="752" transform="rotate(-90 244 752)" font-size="28" text-anchor="middle" textLength="153" lengthAdjust="spacingAndGlyphs">Thick-section</text>
<text x="247" y="1146" transform="rotate(-90 247 1146)" font-size="28" text-anchor="middle" textLength="153" lengthAdjust="spacingAndGlyphs">Thick-section</text>
<text x="250" y="1550" transform="rotate(-90 250 1550)" font-size="28" text-anchor="middle" textLength="155" lengthAdjust="spacingAndGlyphs">Thick-section</text>

<!-- scale bars in normal light -->
<g>
<text x="616" y="159" transform="rotate(-90 616 159)" font-size="36" text-anchor="middle" textLength="98" lengthAdjust="spacingAndGlyphs" style="fill:#fff">0.5mm</text>
<text x="615" y="551" transform="rotate(-90 615 551)" font-size="36" text-anchor="middle" textLength="97" lengthAdjust="spacingAndGlyphs" style="fill:#fff">0.5mm</text>
<text x="615" y="938" transform="rotate(-90 615 938)" font-size="36" text-anchor="middle" textLength="100" lengthAdjust="spacingAndGlyphs" style="fill:#fff">0.5mm</text>
<text x="615" y="1332" transform="rotate(-90 615 1332)" font-size="36" text-anchor="middle" textLength="70" lengthAdjust="spacingAndGlyphs" style="fill:#fff">1mm</text>
</g>
<g stroke="#fff" stroke-width="3.5">
<line x1="628" y1="106" x2="628" y2="211"/>
<line x1="625" y1="513" x2="625" y2="585"/>
<line x1="622" y1="888" x2="622" y2="990"/>
<line x1="620" y1="1288" x2="620" y2="1377"/>
</g>
<!-- bioturbations -->
<text x="808" y="1422" font-size="27" textLength="160" lengthAdjust="spacingAndGlyphs">Bioturbations</text>
<path d="M804 1400Q790 1380 768 1390" stroke="#000" stroke-width="2.6" fill="none"/>
<polygon points="757,1398 764,1382 774,1394" fill="#000"/>
<path d="M846 1402Q858 1388 850 1374" stroke="#000" stroke-width="2.6" fill="none"/>
<polygon points="846,1362 840,1377 855,1375" fill="#000"/>

<!-- ================= PANEL B ================= -->
<g clip-path="url(#cP1)">
<rect x="1646" y="95" width="400" height="516" fill="#efece8"/>
<rect x="1694" y="95" width="30" height="516" fill="#ebe4d8"/>
<rect x="1646" y="95" width="48" height="516" fill="#e6d6ba"/>
<rect x="1646" y="95" width="48" height="516" fill="url(#tkA)"/>
<rect x="1646" y="95" width="48" height="516" fill="url(#tkB)"/>
<rect x="1646" y="95" width="48" height="516" fill="url(#tkC)"/>
<path fill="#c3b898" d="M1720 95L2046 95L2046 447L1973 507L1940 533L1873 583L1733 605L1710 590L1707 563L1720 490L1733 443L1773 363L1813 303L1833 237L1790 175L1740 140L1712 123Z"/>
<path fill="#a29b80" d="M1712 123L1740 140L1790 175L1833 237L1813 303L1773 363L1733 443L1703 395L1704 300L1712 190Z"/>
<path d="M1833 237L1813 303L1773 363L1733 443" stroke="#948b70" stroke-width="3" fill="none"/>
<path fill="#a89c7e" d="M1905 318L1918 312L1938 340L1932 425L1922 525L1910 548L1858 548L1860 505L1880 420Z" opacity=".8"/>
<path fill="#5c5240" d="M1913 317L1903 323L1880 423L1862 517L1860 540L1907 540L1917 523L1927 423L1933 340Z"/>
<path fill="#6b5f48" d="M1950 230L1968 220L1972 250L1963 300L1955 322L1948 280Z"/>
<rect x="1700" y="95" width="346" height="516" fill="#000" filter="url(#grain)" opacity=".25"/>
</g>
<g clip-path="url(#cP2)">
<rect x="1646" y="955" width="400" height="382" fill="url(#bg2)"/>
<rect x="1646" y="1040" width="400" height="297" fill="#e8dcd6"/>
<path fill="#ececee" d="M1646 955L1690 955L1708 1337L1646 1337Z"/>
<path fill="url(#tkD)" d="M1646 955L1690 955L1708 1337L1646 1337Z"/>
<path fill="url(#tkE)" d="M1646 955L1690 955L1708 1337L1646 1337Z"/>
<g clip-path="url(#cRock2)">
<rect x="1690" y="955" width="360" height="380" fill="#a7a390"/>
<g fill="none" stroke-linecap="butt">
<path d="M1690 990L2046 975" stroke="#9a9b90" stroke-width="10"/>
<path d="M1690 1005L2046 992" stroke="#b1a68f" stroke-width="8"/>
<path d="M1690 1025L2046 1015" stroke="#989b95" stroke-width="12"/>
<path d="M1690 1048L2046 1040" stroke="#bcb39f" stroke-width="5"/>
<path d="M1690 1062L2046 1055" stroke="#989b95" stroke-width="7"/>
<path d="M1690 1085L2046 1082" stroke="#b0ad9a" stroke-width="6"/>
<path d="M1690 1112L2046 1110" stroke="#b8b3a2" stroke-width="4"/>
<path d="M1690 1148L2046 1150" stroke="#8c8e88" stroke-width="2"/>
<path d="M1690 1168L2046 1168" stroke="#b2ae9b" stroke-width="8"/>
<path d="M1690 1200L2046 1200" stroke="#979890" stroke-width="5"/>
<path d="M1690 1218L2046 1220" stroke="#b6b2a1" stroke-width="4"/>
<path d="M1690 1240L2046 1240" stroke="#9b9c92" stroke-width="6"/>
<path d="M1690 1262L2046 1262" stroke="#b1ad9b" stroke-width="5"/>
<path d="M1690 1300L2046 1300" stroke="#aaa694" stroke-width="10"/>
</g>
<path fill="#8a6a45" d="M1700 1200L1712 1250L1735 1300L1760 1316L1745 1318L1722 1305L1703 1262Z"/>
<path d="M1757 1294L1820 1289L1880 1288L1960 1285L2046 1283" stroke="#2b241d" stroke-width="2.5" fill="none"/>
<path fill="#3d2a18" d="M1840 1283L1858 1280L1880 1288L1860 1294Z"/>
</g>
<rect x="1698" y="955" width="348" height="382" fill="#000" filter="url(#grain)" opacity=".12"/>
</g>

<text x="1863" y="768" font-size="42" text-anchor="middle" textLength="192" lengthAdjust="spacingAndGlyphs">Vegetation</text>
<text x="1864" y="816" font-size="42" text-anchor="middle" textLength="107" lengthAdjust="spacingAndGlyphs">debris</text>
<text x="1850" y="1535" font-size="42" text-anchor="middle" textLength="192" lengthAdjust="spacingAndGlyphs">Vegetation</text>
<text x="1851" y="1583" font-size="42" text-anchor="middle" textLength="107" lengthAdjust="spacingAndGlyphs">debris</text>
<path d="M1850 723C1836 680 1838 620 1853 575" stroke="#000" stroke-width="6.5" fill="none"/>
<polygon points="1862,546 1831,566 1869,580" fill="#000"/>
<path d="M1843 1492C1828 1455 1830 1400 1846 1360" stroke="#000" stroke-width="6.5" fill="none"/>
<polygon points="1851,1330 1821,1352 1860,1364" fill="#000"/>

<!-- ================= LEGEND ================= -->
<rect x="0" y="1689" width="124" height="58" fill="#666"/>
<text x="140" y="1732" font-size="42" textLength="235" lengthAdjust="spacingAndGlyphs">“Thin” micrite</text>
<rect x="433" y="1689" width="123" height="58" fill="#c8c8c8"/>
<text x="570" y="1732" font-size="42" textLength="252" lengthAdjust="spacingAndGlyphs">“Thick” micrite</text>
<circle cx="906" cy="1699" r="3.5" fill="#000"/><circle cx="938" cy="1697" r="3" fill="#000"/><ellipse cx="921" cy="1728" rx="3.5" ry="5" fill="#000"/><circle cx="952" cy="1719" r="3" fill="#000"/>
<text x="982" y="1732" font-size="42" textLength="279" lengthAdjust="spacingAndGlyphs">Amorphous OM</text>
<ellipse cx="1342" cy="1700" rx="4" ry="9" fill="#ffd500" transform="rotate(15 1342 1700)"/>
<ellipse cx="1386" cy="1690" rx="3.5" ry="8" fill="#ffd500"/>
<ellipse cx="1371" cy="1715" rx="3.5" ry="8" fill="#ffd500"/>
<ellipse cx="1342" cy="1735" rx="4" ry="9" fill="#ffd500" transform="rotate(15 1342 1735)"/>
<ellipse cx="1399" cy="1737" rx="4" ry="8" fill="#ffd500" transform="rotate(-10 1399 1737)"/>
<text x="1423" y="1732" font-size="42" textLength="133" lengthAdjust="spacingAndGlyphs">Clastics</text>
</svg>
</body></html>
